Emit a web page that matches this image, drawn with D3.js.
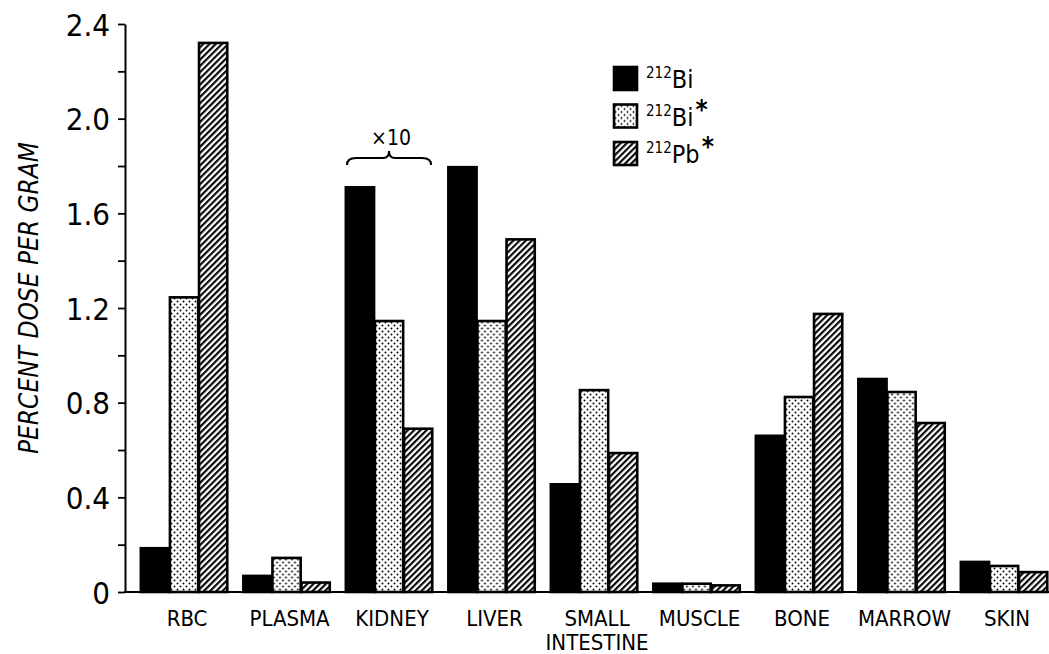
<!DOCTYPE html>
<html>
<head>
<meta charset="utf-8">
<script src="https://cdn.jsdelivr.net/npm/d3@7"></script>
<style>
  body { margin: 0; background: #fff; }
  text { font-family: "Liberation Sans Narrow", "DejaVu Sans Condensed", "Liberation Sans", sans-serif; fill: #000; }
</style>
</head>
<body>
<script>
// size of the page
var w = 1049;
var h = 654;

// organs along the bottom
var categories = ["RBC", "PLASMA", "KIDNEY", "LIVER", "SMALL INTESTINE", "MUSCLE", "BONE", "MARROW", "SKIN"];

// percent dose per gram (kidney already x10)
var bi212     = [0.185, 0.068, 1.71, 1.795, 0.455, 0.035, 0.66, 0.90, 0.127];
var bi212Star = [1.245, 0.144, 1.145, 1.145, 0.853, 0.035, 0.824, 0.845, 0.11];
var pb212Star = [2.32, 0.040, 0.69, 1.49, 0.587, 0.028, 1.175, 0.714, 0.084];

var seriesKeys = ["bi", "biStar", "pbStar"];
var seriesValues = [bi212, bi212Star, pb212Star];
var seriesFills = ["#000", "url(#dots)", "url(#hatch)"];

var yTicks = [0, 0.4, 0.8, 1.2, 1.6, 2.0, 2.4];
var yMinorTicks = [0.2, 0.6, 1.0, 1.4, 1.8, 2.2];

var svg = d3.select("body")
  .append("svg")
  .attr("width", w)
  .attr("height", h);

// fill patterns: stipple and diagonal hatch
var defs = svg.append("defs");
var dots = defs.append("pattern")
  .attr("id", "dots")
  .attr("patternUnits", "userSpaceOnUse")
  .attr("width", 6)
  .attr("height", 6);
dots.append("rect").attr("width", 6).attr("height", 6).attr("fill", "#fff");
dots.append("circle").attr("cx", 1.5).attr("cy", 1.5).attr("r", 0.95).attr("fill", "#000");
dots.append("circle").attr("cx", 4.5).attr("cy", 4.5).attr("r", 0.95).attr("fill", "#000");

var hatch = defs.append("pattern")
  .attr("id", "hatch")
  .attr("patternUnits", "userSpaceOnUse")
  .attr("width", 4.4)
  .attr("height", 10)
  .attr("patternTransform", "rotate(45)");
hatch.append("rect").attr("width", 4.4).attr("height", 10).attr("fill", "#fff");
hatch.append("line")
  .attr("x1", 1.1).attr("y1", 0).attr("x2", 1.1).attr("y2", 10)
  .attr("stroke", "#000").attr("stroke-width", 2.1);

// scales
var x = d3.scaleBand()
  .domain(categories)
  .range([132.8, 1055.3])
  .paddingInner(0.14)
  .paddingOuter(0.07);

var xInner = d3.scaleBand()
  .domain(seriesKeys)
  .range([0, x.bandwidth()])
  .padding(0.03);

var y = d3.scaleLinear()
  .domain([0, 2.4])
  .range([592, 24]);

// bars
var groups = svg.selectAll("g.group")
  .data(categories)
  .enter()
  .append("g")
  .attr("class", "group")
  .attr("transform", function(d) { return "translate(" + x(d) + ",0)"; });

groups.selectAll("rect")
  .data(function(d, i) {
    return seriesKeys.map(function(k, j) { return { key: k, value: seriesValues[j][i], fill: seriesFills[j] }; });
  })
  .enter()
  .append("rect")
  .attr("x", function(d) { return xInner(d.key); })
  .attr("width", xInner.bandwidth())
  .attr("y", function(d) { return y(d.value); })
  .attr("height", function(d) { return y(0) - y(d.value); })
  .attr("fill", function(d) { return d.fill; })
  .attr("stroke", "#000")
  .attr("stroke-width", 2.6);

// y axis
var yAxis = svg.append("g")
  .attr("transform", "translate(125,0)")
  .call(d3.axisLeft(y).tickValues(yTicks).tickSize(7).tickSizeOuter(0)
    .tickFormat(function(d) { return d === 0 ? "0" : d3.format(".1f")(d); }));
yAxis.select(".domain").attr("stroke-width", 2);
yAxis.selectAll(".tick line").attr("stroke-width", 1.8);
yAxis.selectAll(".tick text")
  .attr("x", -15)
  .attr("dy", "0.36em")
  .style("font-size", "31px")
  .style("font-family", null);

svg.append("g")
  .attr("transform", "translate(125,0)")
  .call(d3.axisLeft(y).tickValues(yMinorTicks).tickSize(7).tickFormat(""))
  .call(function(g) {
    g.select(".domain").remove();
    g.selectAll(".tick line").attr("stroke-width", 1.8);
  });

// baseline
svg.append("line")
  .attr("x1", 124).attr("x2", 1049)
  .attr("y1", y(0)).attr("y2", y(0))
  .attr("stroke", "#000")
  .attr("stroke-width", 2.2);

// category labels, SMALL INTESTINE split over two lines
var labelLines = [];
categories.forEach(function(d) {
  var parts = d === "SMALL INTESTINE" ? ["SMALL", "INTESTINE"] : [d];
  parts.forEach(function(p, i) { labelLines.push({ cat: d, text: p, line: i }); });
});
svg.selectAll("text.cat")
  .data(labelLines)
  .enter()
  .append("text")
  .attr("class", "cat")
  .attr("text-anchor", "middle")
  .attr("x", function(d) { return x(d.cat) + x.bandwidth() / 2 + 3; })
  .attr("y", function(d) { return 626 + d.line * 24; })
  .style("font-size", "22px")
  .text(function(d) { return d.text; });

// y title
svg.append("text")
  .attr("transform", "translate(38,298) rotate(-90)")
  .attr("text-anchor", "middle")
  .style("font-size", "26px")
  .style("font-style", "italic")
  .text("PERCENT DOSE PER GRAM");

// x10 brace over kidney
var bx0 = x("KIDNEY") + 2;
var bx1 = x("KIDNEY") + x.bandwidth() - 2;
var bm = (bx0 + bx1) / 2;
svg.append("path")
  .attr("d", "M" + bx0 + ",165 Q" + bx0 + ",158 " + (bx0 + 9) + ",158 L" + (bm - 6) + ",158 Q" + bm + ",158 " + bm + ",151 Q" + bm + ",158 " + (bm + 6) + ",158 L" + (bx1 - 9) + ",158 Q" + bx1 + ",158 " + bx1 + ",165")
  .attr("fill", "none")
  .attr("stroke", "#000")
  .attr("stroke-width", 2);
svg.append("text")
  .attr("x", bm + 2)
  .attr("y", 145)
  .attr("text-anchor", "middle")
  .style("font-size", "21px")
  .text("\u00d710");

// legend
var legendItems = [
  { fill: "#000", name: "Bi", star: false },
  { fill: "url(#dots)", name: "Bi", star: true },
  { fill: "url(#hatch)", name: "Pb", star: true }
];
var legend = svg.selectAll("g.legend")
  .data(legendItems)
  .enter()
  .append("g")
  .attr("class", "legend")
  .attr("transform", function(d, i) { return "translate(614," + (67 + i * 37.5) + ")"; });
legend.append("rect")
  .attr("width", 23)
  .attr("height", 23)
  .attr("fill", function(d) { return d.fill; })
  .attr("stroke", "#000")
  .attr("stroke-width", 2.6);
var lt = legend.append("text")
  .attr("x", 32)
  .attr("y", 21)
  .style("font-size", "25px");
lt.append("tspan")
  .attr("dy", -10)
  .style("font-size", "15px")
  .text("212");
lt.append("tspan")
  .attr("dy", 10)
  .text(function(d) { return d.name; });
lt.append("tspan")
  .attr("dy", -7)
  .attr("dx", 2)
  .style("font-size", "26px")
  .style("font-weight", "bold")
  .text(function(d) { return d.star ? "*" : ""; });
</script>
</body>
</html>
